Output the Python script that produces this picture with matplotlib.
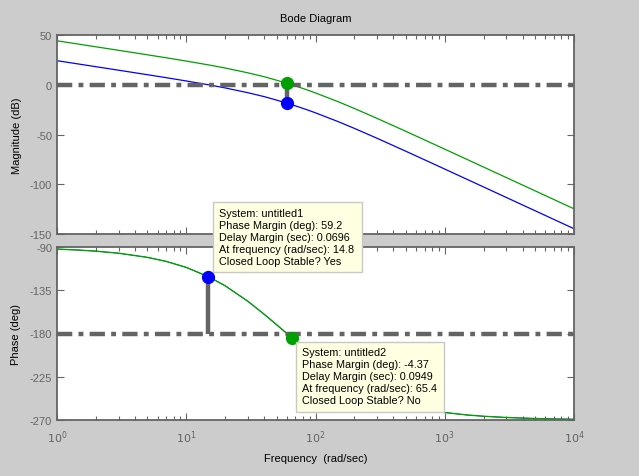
import matplotlib
matplotlib.use("Agg")
import matplotlib.pyplot as plt
from matplotlib.patches import Rectangle
from matplotlib.ticker import LogLocator, FixedLocator, NullFormatter

plt.rcParams['font.family'] = ['Liberation Sans', 'DejaVu Sans']
plt.rcParams['lines.scale_dashes'] = False
plt.rcParams['axes.unicode_minus'] = False

# ---- data ----
freq = [1, 1.5, 2, 3, 5, 7, 10, 15, 20, 30, 40, 50, 60, 70, 85, 100, 150, 200, 300,
        500, 700, 1000, 1500, 2000, 3000, 5000, 7000, 10000]
mag_untitled1 = [24.18, 20.65, 18.14, 14.61, 10.11, 7.10, 3.81, -0.13, -3.18,
                 -8.02, -11.9, -15.44, -18.5, -21.25, -24.9, -28.23, -37.10, -43.86,
                 -53.84, -66.83, -75.50, -84.74, -95.28, -102.77, -113.33, -126.63,
                 -135.40, -144.69]
mag_untitled2 = [44.18, 40.65, 38.14, 34.61, 30.11, 27.10, 23.81, 19.87, 16.82,
                 11.98, 8.1, 4.56, 1.5, -1.25, -4.9, -8.23, -17.10, -23.86, -33.84,
                 -46.83, -55.50, -64.74, -75.28, -82.77, -93.33, -106.63, -115.40,
                 -124.69]
phase_untitled1 = [-92.16, -93.25, -94.33, -96.48, -100.77, -105.00, -111.23,
                   -121.15, -130.36, -146.51, -159.9, -170.82, -180.0, -187.77,
                   -197.2, -205.20, -222.81, -233.23, -244.73, -254.57, -258.93,
                   -262.23, -264.82, -266.11, -267.40, -268.44, -268.89, -269.22]
phase_untitled2 = phase_untitled1

# margin markers
gm_freq = 60.0
gm_mag_untitled1 = -18.5
gm_mag_untitled2 = 1.5
pm_freq_untitled1 = 14.8
pm_phase_untitled1 = -120.8
pm_freq_untitled2 = 65.4
pm_phase_untitled2 = -184.37

tip1_lines = ["System: untitled1", "Phase Margin (deg): 59.2",
              "Delay Margin (sec): 0.0696", "At frequency (rad/sec): 14.8",
              "Closed Loop Stable? Yes"]
tip2_lines = ["System: untitled2", "Phase Margin (deg): -4.37",
              "Delay Margin (sec): 0.0949", "At frequency (rad/sec): 65.4",
              "Closed Loop Stable? No"]

mag_ticks = [50, 0, -50, -100, -150]
phase_ticks = [-90, -135, -180, -225, -270]
freq_ticks = [1, 10, 100, 1000, 10000]
freq_ticklabels = [r'$10^{0}$', r'$10^{1}$', r'$10^{2}$', r'$10^{3}$', r'$10^{4}$']

# ---- styling ----
W, H = 639, 477
BG = '#cccccc'
AX = '#646464'
GREEN = '#00a000'
BLUE = '#0000ff'
TIPBG = '#ffffe1'

fig = plt.figure(figsize=(W / 100, H / 100), dpi=100, facecolor=BG)

def fr(x0, y0, x1, y1):
    return [x0 / W, 1 - y1 / H, (x1 - x0) / W, (y1 - y0) / H]

ax1 = fig.add_axes(fr(57, 36, 574, 235))
ax2 = fig.add_axes(fr(57, 248, 574, 421))

dash = (0, (11, 4.5, 3.5, 4.5))

for ax in (ax1, ax2):
    ax.set_xscale('log')
    ax.set_xlim(1, 10000)
    ax.set_facecolor('white')
    for s in ax.spines.values():
        s.set_color(AX)
        s.set_linewidth(1.3)
    ax.tick_params(which='both', direction='in', top=True, right=True,
                   colors=AX, labelcolor=AX, labelsize=8)
    ax.tick_params(which='major', length=5, width=0.8)
    ax.tick_params(which='minor', length=3, width=0.8)
    ax.xaxis.set_major_locator(FixedLocator(freq_ticks))
    ax.xaxis.set_minor_locator(LogLocator(base=10, subs=range(2, 10)))
    ax.xaxis.set_minor_formatter(NullFormatter())

# magnitude
ax1.plot(freq, mag_untitled1, color=BLUE, lw=0.9)
ax1.plot(freq, mag_untitled2, color=GREEN, lw=0.9)
ax1.axhline(0, color=AX, lw=3.2, linestyle=dash, zorder=3)
ax1.plot([gm_freq, gm_freq], [0, gm_mag_untitled1], color=AX, lw=3.2, zorder=4,
         solid_capstyle='butt')
ax1.plot([gm_freq], [gm_mag_untitled2], 'o', color=GREEN, ms=8.5, zorder=5)
ax1.plot([gm_freq], [gm_mag_untitled1], 'o', color=BLUE, ms=8.5, zorder=5)
ax1.set_ylim(-150, 50)
ax1.set_yticks(mag_ticks)
ax1.set_xticklabels([])
ax1.set_ylabel('Magnitude (dB)', fontsize=8, color='black', labelpad=6)
ax1.set_title('Bode Diagram', fontsize=8, color='black', pad=10)

# phase (untitled2 drawn on top of the identical untitled1 curve)
ax2.plot(freq, phase_untitled1, color=BLUE, lw=0.5)
ax2.plot(freq, phase_untitled2, color=GREEN, lw=1.0)
ax2.axhline(-180, color=AX, lw=3.2, linestyle=dash, zorder=3)
ax2.plot([pm_freq_untitled1, pm_freq_untitled1], [-180, pm_phase_untitled1],
         color=AX, lw=3.2, zorder=4, solid_capstyle='butt')
ax2.plot([pm_freq_untitled1], [pm_phase_untitled1], 'o', color=BLUE, ms=8.5, zorder=5)
ax2.plot([pm_freq_untitled2], [pm_phase_untitled2], 'o', color=GREEN, ms=8.5, zorder=5)
ax2.set_ylim(-270, -90)
ax2.set_yticks(phase_ticks)
ax2.set_xticklabels(freq_ticklabels)
ax2.tick_params(axis='x', which='major', pad=6)
ax2.set_ylabel('Phase (deg)', fontsize=8, color='black', labelpad=6)
ax2.set_xlabel('Frequency  (rad/sec)', fontsize=8, color='black', labelpad=6)

# datatips
def datatip(x0, y0, x1, y1, tx, ty0, lines):
    fig.add_artist(Rectangle((x0 / W, 1 - y1 / H), (x1 - x0) / W, (y1 - y0) / H,
                             transform=fig.transFigure, facecolor=TIPBG,
                             edgecolor='#c8c8c8', lw=1.0, zorder=10))
    for i, t in enumerate(lines):
        fig.text(tx / W, 1 - (ty0 + i * 11.9) / H, t, fontsize=7.8,
                 color='black', va='center', ha='left', zorder=11)

datatip(213, 203, 362, 273, 219, 214.3, tip1_lines)
datatip(296, 343, 444, 413, 301.5, 353.3, tip2_lines)

fig.savefig('out.png', dpi=100, facecolor=BG)
